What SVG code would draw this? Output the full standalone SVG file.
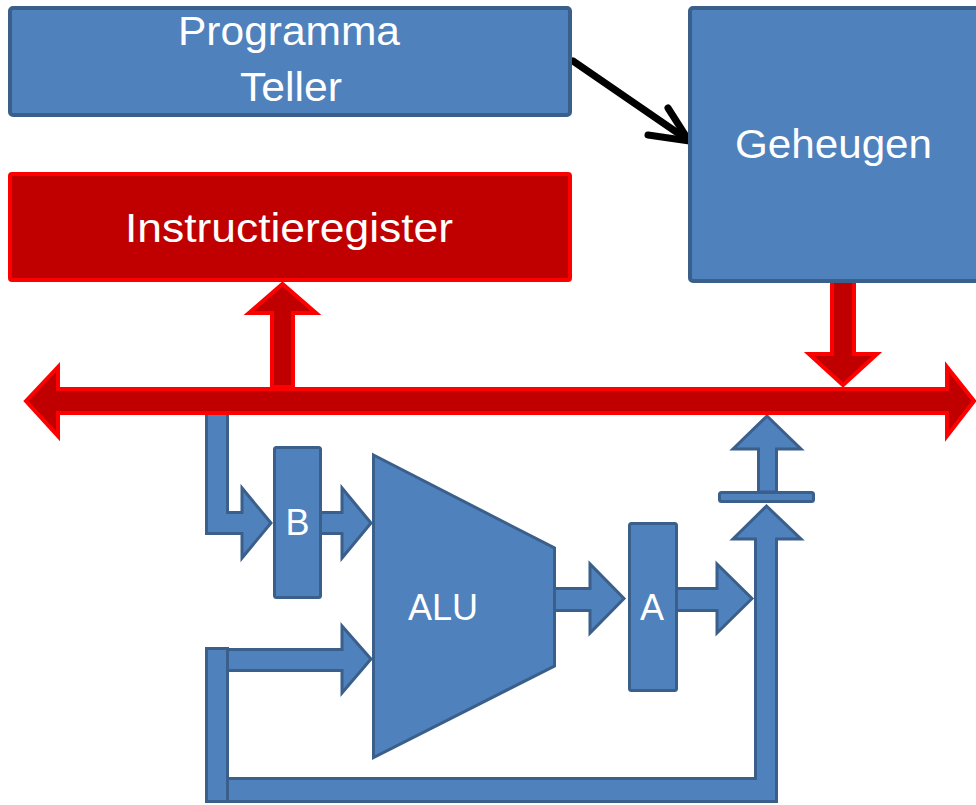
<svg xmlns="http://www.w3.org/2000/svg" width="976" height="805" viewBox="0 0 976 805">
<style>
.blue{fill:#4F81BD;stroke:#3A5F8B;stroke-width:3;stroke-linejoin:miter}
.bluebox{fill:#4F81BD;stroke:#3A5F8B;stroke-width:4}
.red{fill:#C00000;stroke:#FF0000;stroke-width:4;stroke-linejoin:miter}
.lbl{font-family:"Liberation Sans",Arial,sans-serif;fill:#FFFFFF;font-size:40px}
.sm{font-size:36px}
</style>
<rect width="976" height="805" fill="#FFFFFF"/>

<g id="connectors">
  <!-- black arrow PC -> memory -->
  <g fill="none" stroke="#000000" stroke-width="7" stroke-linecap="round" stroke-linejoin="miter">
    <path d="M 573 61 L 685 138"/>
    <path d="M 668 108 L 689 141 L 648 135"/>
  </g>
  <!-- red arrows to/from bus -->
  <polygon class="red" points="272,387 272,313 249,313 282.5,284 316,313 293,313 293,387"/>
  <polygon class="red" points="832,281 854,281 854,354 877,354 843,385 809,354 832,354"/>
  <!-- blue: top feeder to B -->
  <polygon class="blue" points="206.5,413.5 227.5,413.5 227.5,512.5 242,512.5 242,488 271,523 242,558 242,533.5 206.5,533.5"/>
  <!-- B -> ALU -->
  <polygon class="blue" points="320,512.5 342,512.5 342,488 371,523 342,558 342,533.5 320,533.5"/>
  <!-- ALU -> A -->
  <polygon class="blue" points="553,588.5 590,588.5 590,564 624,598.5 590,633 590,610.5 553,610.5"/>
  <!-- A -> column -->
  <polygon class="blue" points="675,588.5 717,588.5 717,564 752,598.5 717,633 717,610.5 675,610.5"/>
  <!-- bottom feedback bent-up arrow -->
  <polygon class="blue" points="206.5,778.5 755.5,778.5 755.5,539 733,539 766.5,506 801,539 776.5,539 776.5,801.5 206.5,801.5"/>
  <!-- left post -->
  <rect class="blue" x="206.5" y="648.5" width="21" height="153"/>
  <!-- post -> ALU -->
  <polygon class="blue" points="227.5,649.5 342,649.5 342,626 371,659 342,693 342,670.5 227.5,670.5"/>
  <!-- gate -> bus -->
  <polygon class="blue" points="758.5,492 758.5,449 733,449 767,416 801,449 776.5,449 776.5,492"/>
</g>

<g id="bus">
  <polygon class="red" points="26,401 58,367 58,389 947,389 947,367 974,401 947,436 947,413 58,413 58,436"/>
</g>

<g id="pc">
  <rect class="bluebox" x="10" y="8" width="560" height="107" rx="3"/>
  <text class="lbl" x="289" y="45" text-anchor="middle" textLength="222" lengthAdjust="spacingAndGlyphs">Programma</text>
  <text class="lbl" x="291" y="101" text-anchor="middle" textLength="102" lengthAdjust="spacingAndGlyphs">Teller</text>
</g>

<g id="mem">
  <rect class="bluebox" x="690" y="8" width="300" height="273" rx="3"/>
  <text class="lbl" x="833.5" y="158" text-anchor="middle" textLength="197" lengthAdjust="spacingAndGlyphs">Geheugen</text>
</g>

<g id="ir">
  <rect class="red" x="10" y="174" width="560" height="106" rx="2"/>
  <text class="lbl" x="289" y="242" text-anchor="middle" textLength="328" lengthAdjust="spacingAndGlyphs">Instructieregister</text>
</g>

<g id="gate">
  <rect class="blue" x="719.5" y="492.5" width="94" height="9" rx="2"/>
</g>

<g id="regB">
  <rect class="blue" x="274.5" y="447.5" width="46" height="150" rx="2"/>
  <text class="lbl sm" x="297.5" y="535" text-anchor="middle">B</text>
</g>

<g id="alu">
  <polygon class="blue" points="373.5,455 554.5,548 554.5,666 373.5,757.5"/>
  <text class="lbl sm" x="443" y="620" text-anchor="middle">ALU</text>
</g>

<g id="regA">
  <rect class="blue" x="629.5" y="523.5" width="47" height="167" rx="2"/>
  <text class="lbl sm" x="652" y="620" text-anchor="middle">A</text>
</g>
</svg>
